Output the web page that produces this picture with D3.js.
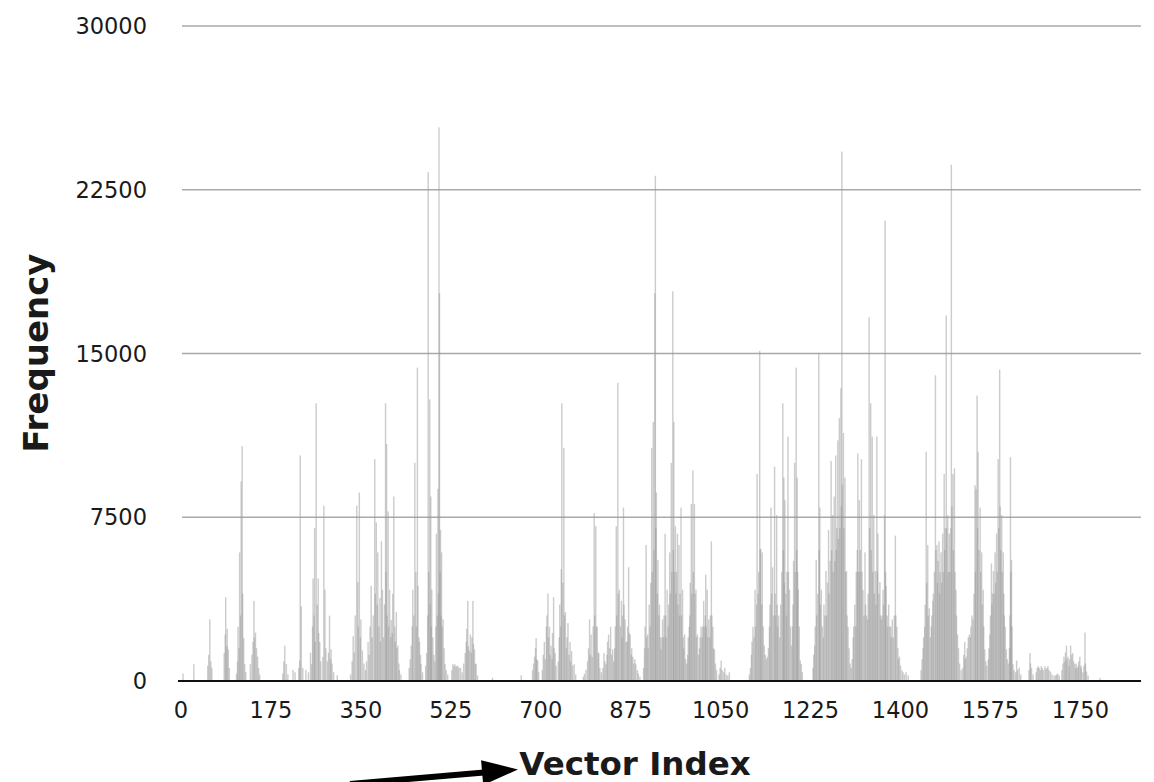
<!DOCTYPE html>
<html>
<head>
<meta charset="utf-8">
<script src="https://cdn.jsdelivr.net/npm/d3@7"></script>
<style>
  html, body { margin: 0; padding: 0; background: #fff; }
  svg { display: block; }
  text { font-family: "DejaVu Sans", sans-serif; fill: #1a1a1a; }
</style>
</head>
<body>
<svg id="chart" width="1154" height="782"></svg>
<script>
// ---- data: [vector index, frequency] ----
const bars0 = [[4,340],[25,770],[52,700],[54,1200],[56,2820],[58,900],[60,600],
[84,1280],[86,2130],[87,3840],[89,1600],[90,2390],[92,1450],[94,600],
[108,340],[110,900],[111,2480],[113,1500],[114,5890],[116,3000],[117,9140],[119,10760],[120,4000],[122,1960],[124,770],[126,400],
[135,770],[138,1200],[140,1800],[142,3670],[143,2000],[145,2220],[147,1500],[149,1110],[151,600],[153,300],
[198,340],[200,900],[202,1620],[205,770],[208,300],[218,510],[222,400],
[229,600],[231,940],[232,10330],[234,3420],[237,600],[243,510],[248,400],
[252,1300],[254,770],[256,2500],[257,4700],[259,3000],[260,7000],[261,1800],[263,12720],[265,3500],[267,4700],[268,2200],[270,1790],[272,900],
[276,1100],[278,8030],[280,4180],[282,1500],[285,900],[287,1300],[289,2990],[291,1000],[292,1450],[294,800],[297,400],[304,260]];
const bars1 = [[330,300],[333,900],[335,2050],[337,1300],[339,3000],[342,8030],[344,4530],[345,2500],[347,8630],[349,2000],[350,2820],[353,1400],[356,800],[359,500],
[361,900],[364,1790],[366,1200],[368,2500],[370,4360],[372,2000],[374,3000],[377,10160],[378,4000],[380,7260],[382,3500],[383,5890],[385,2500],[387,3800],[388,1800],[390,6400],[392,4180],[394,2000],[396,3500],[398,12720],[399,5000],[400,10850],[401,3000],[403,7770],[404,2500],[406,4180],[408,2000],[409,2800],[411,2200],[412,4000],[414,8450],[416,2500],[417,1800],[419,3160],[420,1500],[422,1620],[424,800],[425,500],[428,300],
[444,600],[446,1000],[448,1620],[450,2500],[451,4180],[453,3000],[455,9990],[457,5000],[458,2500],[460,14350],[461,4360],[463,2000],[464,1800],[466,1200],[467,770],[470,400],
[476,700],[478,1280],[480,3000],[481,23310],[482,5000],[484,12900],[485,3500],[486,8450],[487,2500],[488,4180],[490,2000],[492,1200],[494,900],
[496,2500],[497,6750],[499,3000],[500,8800],[501,4000],[502,25360],[503,17760],[504,5000],[505,6920],[506,3000],[507,5890],[508,2500],[510,2820],[512,1500],[514,770],[516,500],[519,300],
[527,500],[529,770],[531,700],[533,770],[535,650],[537,700],[539,680],[541,600],[544,600],[547,400],
[550,800],[553,1280],[555,1800],[556,2400],[558,3670],[559,1600],[561,1400],[563,2130],[565,1300],[566,2000],[568,3670],[569,1700],[571,1450],[573,800],[574,770],[577,260],
[606,150],[662,260]];
const bars2 = [[684,500],[686,800],[688,1110],[690,1500],[691,1960],[692,1000],[694,940],[696,400],
[703,500],[705,1200],[707,1790],[709,1000],[711,2500],[712,3000],[714,4010],[715,2000],[717,2480],[718,1200],[720,1620],[722,1000],[723,2200],[725,3840],[726,1500],[728,1280],[730,700],
[734,900],[736,2000],[737,3500],[739,2500],[740,5120],[741,12720],[743,4500],[745,10680],[746,3000],[748,3160],[750,1500],[751,2000],[753,2650],[755,1200],[757,1790],[758,900],[760,1370],[762,700],[765,770],[768,300],
[783,200],[785,340],[788,500],[791,900],[793,1500],[795,2820],[796,1200],[798,2130],[800,1100],[802,2500],
[804,7690],[805,3000],[807,7090],[808,2500],[810,2480],[812,1300],[813,1280],[815,600],[818,400],
[821,600],[823,1280],[825,900],[827,770],[829,1200],[830,1800],[832,2130],[834,1500],[836,2480],[838,1200],[840,1450],[842,900],
[844,1500],[845,2500],[847,7090],[848,3000],[850,13660],[851,4000],[853,4180],[855,2500],[857,3670],[858,2000],[859,3000],[861,7940],[862,3500],[864,2820],[866,1800],[868,1790],[869,2500],[871,5210],[872,2200],[874,2130],[876,1200],[877,1500],[879,1110],[881,800],[883,1000],[885,770],[888,500],[890,340],[893,200]];
const bars3 = [[900,600],[902,1500],[903,2500],[905,6230],[906,2000],[908,2130],[909,1500],[911,3500],[913,2500],[914,4500],[916,10680],[917,5000],[919,11870],[920,6000],[922,17760],[923,23140],[924,7000],[925,8630],[927,4000],[928,5550],[930,3000],[931,3500],[933,2000],[934,1450],[936,2000],[937,2820],[939,2000],[940,3000],[942,6750],[943,3000],[944,2000],[946,4180],[948,2500],[949,3500],[951,5890],[952,4000],[954,9990],[955,5000],[957,17850],[958,6000],[959,11870],[960,5000],[962,7090],[963,4000],[964,5000],[966,6750],[967,3500],[969,6230],[970,3000],[971,4000],[973,7940],[974,3000],[976,4180],[977,2000],[978,1500],[980,2130],[982,1000],[984,800],[986,1200],[987,2000],[989,2480],[990,3000],[991,4500],[993,8110],[994,4000],[996,9650],[997,5000],[999,8110],[1000,4000],[1002,4180],[1003,2000],[1005,2130],[1007,1200],[1009,1500],[1010,2000],[1012,2480],[1014,2000],[1015,2500],[1017,3670],[1018,2500],[1020,3000],[1021,4870],[1022,2500],[1024,4180],[1025,2000],[1027,2820],[1029,2000],[1030,3000],[1032,6400],[1033,3000],[1035,2480],[1036,1500],[1038,1450],[1040,800],[1042,500],
[1047,300],[1049,600],[1051,940],[1053,500],[1056,400],[1058,600],[1061,300],[1064,250],[1067,400]];
const bars4 = [[1106,300],[1108,600],[1110,1200],[1111,1800],[1113,2480],[1115,2000],[1117,4180],[1118,2500],[1120,3500],[1121,9480],[1123,4000],[1124,5000],[1126,15120],[1127,6000],[1128,6060],[1130,3500],[1131,5890],[1133,2500],[1135,1620],[1137,1200],[1139,1000],[1141,1110],[1143,1500],[1145,2500],[1146,3500],[1148,7940],[1149,4000],[1151,5210],[1153,3000],[1155,9820],[1156,4000],[1157,3000],[1159,7600],[1160,3500],[1161,2480],[1163,3000],[1165,2000],[1167,3500],[1169,5000],[1171,12720],[1172,6000],[1173,9310],[1174,4500],[1175,8280],[1177,4000],[1178,3000],[1179,5000],[1181,11190],[1182,5000],[1184,4180],[1186,2500],[1188,1620],[1190,2500],[1191,3500],[1192,5500],[1194,9990],[1195,5000],[1197,14350],[1198,6000],[1199,9310],[1200,5000],[1201,4180],[1203,2500],[1205,940],[1207,770],[1209,400]];
const bars5 = [[1230,600],[1231,1200],[1233,1620],[1234,2500],[1236,5550],[1237,3000],[1239,4000],[1241,15030],[1242,6000],[1243,7940],[1244,3500],[1246,4180],[1248,2500],[1250,2000],[1251,3500],[1253,3000],[1255,5040],[1256,3000],[1258,4500],[1260,6920],[1261,4000],[1263,5500],[1265,10080],[1266,6000],[1268,7600],[1269,5000],[1271,8450],[1272,5500],[1274,10330],[1275,6000],[1276,7000],[1278,11020],[1279,6500],[1281,12040],[1282,7000],[1284,13410],[1285,8000],[1286,24250],[1287,9000],[1289,11360],[1290,7000],[1292,9310],[1293,5000],[1295,5040],[1296,3000],[1298,2480],[1300,1500],[1302,800],[1304,600],[1306,1000],[1308,2000],[1309,2500],[1311,3500],[1313,2500],[1314,5000],[1316,6000],[1317,10420],[1318,5000],[1320,8280],[1321,5000],[1322,6000],[1324,10160],[1325,5000],[1327,4180],[1329,3000],[1331,5890],[1332,3500],[1334,3000],[1336,2820],[1337,4000],[1339,16650],[1340,7000],[1342,12720],[1343,6000],[1345,11190],[1346,5000],[1348,7600],[1349,4000],[1351,5040],[1352,3500],[1354,11190],[1355,5000],[1356,6750],[1358,4000],[1360,4530],[1361,3000],[1363,2820],[1364,3000],[1366,4180],[1367,3500],[1369,7600],[1370,21090],[1371,5000],[1372,4360],[1374,3000],[1375,2500],[1377,3500],[1379,2500],[1381,2480],[1382,2000],[1384,2820],[1386,2000],[1388,3000],[1390,6660],[1391,3000],[1393,2480],[1395,1500],[1396,1000],[1398,1110],[1400,700],[1403,500],[1405,400],[1408,300],[1411,400],[1415,250]];
const bars6 = [[1440,500],[1442,1000],[1444,1500],[1445,2000],[1447,2480],[1448,3500],[1450,10500],[1451,4500],[1453,6230],[1454,3000],[1456,3330],[1458,2000],[1460,2500],[1461,3000],[1463,3670],[1464,4000],[1466,5000],[1468,14000],[1469,6000],[1471,6230],[1472,4500],[1473,5500],[1475,6400],[1476,4000],[1477,5000],[1479,5890],[1480,4500],[1482,6750],[1483,5000],[1485,9480],[1486,6000],[1487,7000],[1489,16740],[1490,7000],[1492,7600],[1493,5000],[1495,6750],[1496,5000],[1498,7000],[1499,23650],[1500,8000],[1502,9480],[1503,6000],[1505,9740],[1506,5000],[1508,4180],[1509,3000],[1511,2130],[1513,1500],[1515,800],[1518,500],
[1521,600],[1523,1200],[1525,1790],[1526,1000],[1528,1110],[1530,1500],[1532,2000],[1534,2130],[1536,2000],[1537,2500],[1539,3000],[1541,2820],[1543,4000],[1545,8970],[1546,5000],[1547,8800],[1549,13070],[1550,7000],[1551,10500],[1553,6000],[1555,7940],[1556,5000],[1558,5890],[1559,3500],[1561,4180],[1562,2500],[1564,1450],[1566,900],[1568,700],
[1571,1000],[1572,1500],[1574,2130],[1575,3000],[1577,5380],[1578,3500],[1579,4000],[1581,5040],[1582,4000],[1584,5890],[1585,4500],[1587,6750],[1588,5000],[1590,10160],[1591,7000],[1593,14260],[1594,8000],[1595,6000],[1597,7600],[1598,5000],[1600,5890],[1601,4000],[1602,3000],[1604,2480],[1606,1450],[1608,1000],[1610,800],[1612,1500],[1613,3000],[1614,10250],[1615,5000],[1616,5550],[1617,2500],[1619,770],[1621,500],[1624,400],[1626,940],[1628,500],[1631,600],[1634,300]];
const bars7 = [[1650,500],[1652,1280],[1653,800],[1655,600],[1658,300],
[1664,400],[1666,600],[1668,680],[1670,600],[1672,500],[1674,680],[1676,600],[1678,500],[1681,680],[1683,550],[1685,600],[1687,680],[1689,500],[1692,430],[1695,300],[1699,250],[1702,260],[1704,300],[1706,340],[1709,250],
[1714,500],[1716,800],[1718,1110],[1720,900],[1721,1300],[1723,1620],[1724,1000],[1726,1110],[1728,700],[1729,1000],[1731,1620],[1733,1200],[1735,1280],[1737,900],[1739,770],[1741,600],[1742,800],[1744,600],[1746,700],[1747,900],[1749,1110],[1751,700],[1752,600],[1755,400],[1757,700],[1759,2220],[1760,800],[1762,430],[1765,250],[1788,150]];

const xTicks = [0, 175, 350, 525, 700, 875, 1050, 1225, 1400, 1575, 1750];
const yTicks = [0, 7500, 15000, 22500, 30000];
const xMax = 1868;
const yMax = 30000;
const xTitle = "Vector Index";
const yTitle = "Frequency";

const allBars = [].concat(bars0, bars1, bars2, bars3, bars4, bars5, bars6, bars7);

// ---- layout ----
const svg = d3.select("#chart");
const x = d3.scaleLinear().domain([0, xMax]).range([181, 1141]);
const y = d3.scaleLinear().domain([0, yMax]).range([681, 26]);

// grid lines
svg.append("g").selectAll("line")
  .data(yTicks.filter(d => d > 0))
  .join("line")
  .attr("x1", 182).attr("x2", 1141)
  .attr("y1", d => y(d)).attr("y2", d => y(d))
  .attr("stroke", "#a9a9a9").attr("stroke-width", 1.6);

// bars
const bw = 1.4;
svg.append("g").selectAll("rect")
  .data(allBars)
  .join("rect")
  .attr("x", d => x(d[0]) - bw / 2)
  .attr("width", bw)
  .attr("y", d => y(d[1]))
  .attr("height", d => y(0) - y(d[1]))
  .attr("fill", "#999")
  .attr("fill-opacity", 0.5);

// baseline axis
svg.append("line")
  .attr("x1", 178).attr("x2", 1141)
  .attr("y1", y(0)).attr("y2", y(0))
  .attr("stroke", "#111").attr("stroke-width", 2.2);

// y tick labels
svg.append("g").selectAll("text")
  .data(yTicks)
  .join("text")
  .attr("x", 147)
  .attr("y", d => y(d))
  .attr("dy", "0.36em")
  .attr("text-anchor", "end")
  .attr("font-size", 22.5)
  .text(d => d);

// x tick labels
svg.append("g").selectAll("text")
  .data(xTicks)
  .join("text")
  .attr("x", d => x(d))
  .attr("y", 718)
  .attr("text-anchor", "middle")
  .attr("font-size", 22.5)
  .text(d => d);

// axis titles
svg.append("text")
  .attr("transform", "translate(48,353) rotate(-90)")
  .attr("text-anchor", "middle")
  .attr("font-size", 34)
  .attr("font-weight", "bold")
  .attr("fill", "#111")
  .text(yTitle);

svg.append("text")
  .attr("x", 635).attr("y", 775)
  .attr("text-anchor", "middle")
  .attr("font-size", 32.5)
  .attr("font-weight", "bold")
  .attr("fill", "#111")
  .text(xTitle);

// annotation arrow
const a0 = [350, 784], tip = [518, 769.5];
const dx = tip[0] - a0[0], dy = tip[1] - a0[1];
const len = Math.hypot(dx, dy), ux = dx / len, uy = dy / len, px = -uy, py = ux;
const headL = 36, headW = 12.5;
const base = [tip[0] - ux * headL, tip[1] - uy * headL];
svg.append("line")
  .attr("x1", a0[0]).attr("y1", a0[1])
  .attr("x2", base[0] + ux * 2).attr("y2", base[1] + uy * 2)
  .attr("stroke", "#000").attr("stroke-width", 6);
svg.append("path")
  .attr("d", d3.line()([tip, [base[0] + px * headW, base[1] + py * headW], [base[0] - px * headW, base[1] - py * headW]]) + "Z")
  .attr("fill", "#000");
</script>
</body>
</html>
